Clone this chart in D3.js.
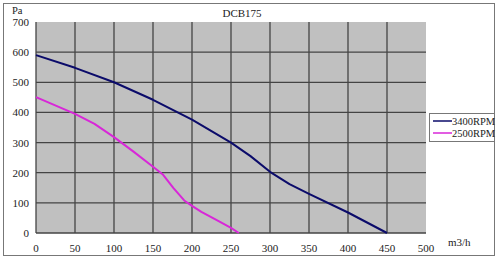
<!DOCTYPE html>
<html>
<head>
<meta charset="utf-8">
<script src="https://cdn.jsdelivr.net/npm/d3@7"></script>
<style>
  body { margin: 0; background: #fff; }
  text { font-family: "Liberation Serif", "DejaVu Serif", serif; fill: #222; }
</style>
</head>
<body>
<svg width="500" height="260"></svg>
<script>
const title = "DCB175";
const xTicks = [0, 50, 100, 150, 200, 250, 300, 350, 400, 450, 500];
const yTicks = [0, 100, 200, 300, 400, 500, 600, 700];
const seriesNames = ["3400RPM", "2500RPM"];
const seriesColors = ["#0b0b6a", "#d827d8"];
// flow (m3/h), pressure (Pa)
const flow3400 = [0, 50, 100, 150, 200, 250, 275, 300, 325, 350, 400, 450];
const pa3400 = [590, 548, 500, 442, 376, 300, 255, 203, 162, 130, 68, 0];
const flow2500 = [0, 50, 75, 100, 125, 150, 163, 176, 190, 200, 212, 230, 250, 260];
const pa2500 = [451, 395, 362, 318, 270, 220, 193, 150, 108, 90, 70, 45, 17, 0];

const svg = d3.select('svg');

// outer frame
svg.append('rect')
  .attr('x', 3.5).attr('y', 3.5)
  .attr('width', 491).attr('height', 252)
  .attr('fill', 'none').attr('stroke', '#777').attr('stroke-width', 1);

const x = d3.scaleLinear().domain([0, 500]).range([36, 426]);
const y = d3.scaleLinear().domain([0, 700]).range([233, 22]);

// plot background
svg.append('rect')
  .attr('x', x(0)).attr('y', y(700))
  .attr('width', x(500) - x(0)).attr('height', y(0) - y(700))
  .attr('fill', '#c0c0c0');

// grid
svg.append('g').selectAll('line')
  .data(xTicks.slice(0, -1)).enter().append('line')
  .attr('x1', d => x(d)).attr('x2', d => x(d))
  .attr('y1', y(700)).attr('y2', y(0))
  .attr('stroke', '#444').attr('stroke-width', 1.3);

svg.append('g').selectAll('line')
  .data(yTicks.slice(0, -1)).enter().append('line')
  .attr('x1', x(0)).attr('x2', x(500))
  .attr('y1', d => y(d)).attr('y2', d => y(d))
  .attr('stroke', '#444').attr('stroke-width', 1.3);

// tick labels
svg.append('g').selectAll('text')
  .data(yTicks).enter().append('text')
  .attr('x', 29).attr('y', d => y(d) + 4)
  .attr('text-anchor', 'end')
  .style('font-size', '11px')
  .text(d => d);

svg.append('g').selectAll('text')
  .data(xTicks).enter().append('text')
  .attr('x', d => x(d)).attr('y', 252)
  .attr('text-anchor', 'middle')
  .style('font-size', '11px')
  .text(d => d);

svg.append('text').attr('x', 12).attr('y', 14).style('font-size', '10.5px').text('Pa');
svg.append('text').attr('x', 448).attr('y', 246).style('font-size', '11px').text('m3/h');
svg.append('text').attr('x', 242).attr('y', 17).attr('text-anchor', 'middle')
  .style('font-size', '11px').text(title);

// curves
const line = d3.line().x(d => x(d[0])).y(d => y(d[1]));
const series = [d3.zip(flow3400, pa3400), d3.zip(flow2500, pa2500)];

svg.append('g').selectAll('path')
  .data(series).enter().append('path')
  .attr('d', line)
  .attr('fill', 'none')
  .attr('stroke', (d, i) => seriesColors[i])
  .attr('stroke-width', 2)
  .attr('stroke-linejoin', 'round');

// legend
const legend = svg.append('g');
legend.append('rect')
  .attr('x', 429.5).attr('y', 113.5)
  .attr('width', 65).attr('height', 28)
  .attr('fill', '#fff').attr('stroke', '#777');

const item = legend.selectAll('g.item')
  .data(seriesNames).enter().append('g')
  .attr('class', 'item')
  .attr('transform', (d, i) => `translate(0,${121 + i * 12})`);

item.append('line')
  .attr('x1', 433).attr('x2', 452)
  .attr('stroke', (d, i) => seriesColors[i])
  .attr('stroke-width', 1.5);

item.append('text')
  .attr('x', 452).attr('y', 4)
  .style('font-size', '10.5px')
  .text(d => d);
</script>
</body>
</html>
